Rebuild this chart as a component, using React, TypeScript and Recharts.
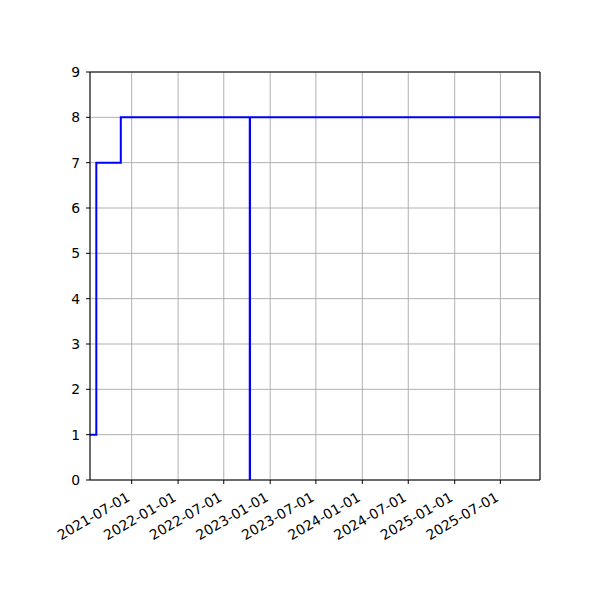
import React from 'react';
import { LineChart, Line, XAxis, YAxis, CartesianGrid, ReferenceLine } from 'recharts';

const stepDates = ['2021-01-17', '2021-02-11', '2021-05-19', '2022-10-12', '2022-10-13', '2025-12-05'];
const stepValues = [1, 7, 8, 0, 8, 8];
const xTickLabels = ['2021-07-01', '2022-01-01', '2022-07-01', '2023-01-01', '2023-07-01', '2024-01-01', '2024-07-01', '2025-01-01', '2025-07-01'];
const yTickValues = [0, 1, 2, 3, 4, 5, 6, 7, 8, 9];
const xStart = '2021-01-17';
const xEnd = '2025-12-05';

const ts = (s: string) => {
  const [y, m, d] = s.split('-').map(Number);
  return Date.UTC(y, m - 1, d);
};
const fmt = (v: number) => {
  const d = new Date(v);
  const mm = String(d.getUTCMonth() + 1).padStart(2, '0');
  const dd = String(d.getUTCDate()).padStart(2, '0');
  return `${d.getUTCFullYear()}-${mm}-${dd}`;
};

const data = stepDates.map((s, i) => ({ t: ts(s), v: stepValues[i] }));
const xTicks = xTickLabels.map(ts);
const FONT = 'DejaVu Sans';
const FS = 13.9;

const DateTick = (props: any) => {
  const { x, y, payload } = props;
  const ax = x - 6;
  const ay = y + 1;
  return (
    <text
      x={ax}
      y={ay}
      textAnchor="end"
      dominantBaseline="hanging"
      transform={`rotate(-30, ${ax}, ${ay})`}
      fontSize={FS}
      fontFamily={FONT}
      fill="#000"
    >
      {fmt(payload.value)}
    </text>
  );
};

export default function App() {
  return (
    <div style={{ position: 'absolute', left: 0, top: 0, width: 600, height: 600, background: '#fff' }}>
      <LineChart width={600} height={600} data={data} margin={{ top: 72, right: 60, bottom: 60, left: 40 }}>
        <CartesianGrid stroke="#b0b0b0" strokeWidth={1} />
        <XAxis
          dataKey="t"
          type="number"
          scale="linear"
          domain={[ts(xStart), ts(xEnd)]}
          ticks={xTicks}
          interval={0}
          height={60}
          tickSize={4}
          tickMargin={6}
          tick={<DateTick />}
          axisLine={{ stroke: '#000' }}
          tickLine={{ stroke: '#000' }}
          allowDataOverflow
        />
        <YAxis
          type="number"
          domain={[0, 9]}
          ticks={yTickValues}
          interval={0}
          width={50}
          tickSize={4}
          tickMargin={6}
          tick={{ fill: '#000', fontSize: FS, fontFamily: FONT }}
          axisLine={{ stroke: '#000' }}
          tickLine={{ stroke: '#000' }}
          allowDataOverflow
        />
        <ReferenceLine y={9} stroke="#000" ifOverflow="visible" />
        <ReferenceLine x={ts(xEnd)} stroke="#000" ifOverflow="visible" />
        <Line
          type="stepAfter"
          dataKey="v"
          stroke="#0000ff"
          strokeWidth={2}
          dot={false}
          isAnimationActive={false}
        />
      </LineChart>
    </div>
  );
}
